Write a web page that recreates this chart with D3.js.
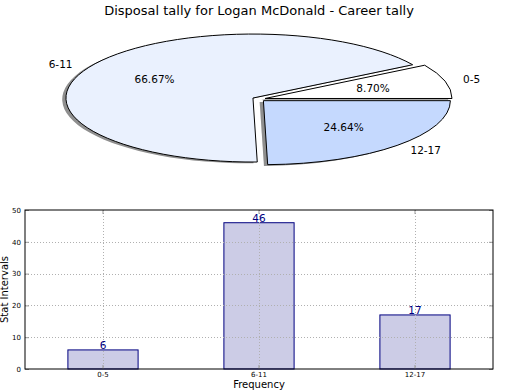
<!DOCTYPE html>
<html>
<head>
<meta charset="utf-8">
<script src="https://cdn.jsdelivr.net/npm/d3@7"></script>
<style>
  body { margin: 0; background: #fff; }
  svg { font-family: "DejaVu Sans", sans-serif; }
</style>
</head>
<body>
<svg id="chart" width="520" height="390"></svg>
<script>
// data
let categories = ['0-5', '6-11', '12-17'];
let counts = [6, 46, 17];
let slice_colors = ['#ffffff', '#eaf1fe', '#c5d9fe'];
let y_ticks = [0, 10, 20, 30, 40, 50];
let title_text = 'Disposal tally for Logan McDonald - Career tally';

let svg = d3.select('#chart');

svg.append('text')
    .attr('x', 259)
    .attr('y', 15)
    .attr('text-anchor', 'middle')
    .attr('font-size', 13)
    .text(title_text);

// ---- pie (squashed, exploded, with shadow) ----
function add_pie() {
    let cx = 258.7, cy = 99.1, rx = 187, ry = 64, explode = 0.035;
    let total = d3.sum(counts);

    // matplotlib style: start at east, counter-clockwise
    let pie = d3.pie()
        .sort(null)
        .startAngle(Math.PI / 2)
        .endAngle(Math.PI / 2 - 2 * Math.PI)
        .value(function (d) { return d; });

    let arc = d3.arc().innerRadius(0).outerRadius(1);
    let slices = pie(counts);

    function offset(d, k) {
        let a = (d.startAngle + d.endAngle) / 2;
        return [Math.sin(a) * k * rx, -Math.cos(a) * k * ry];
    }

    let g = svg.append('g');

    // shadows go under every wedge
    slices.forEach(function (d) {
        let o = offset(d, explode);
        g.append('path')
            .attr('d', arc(d))
            .attr('transform', 'translate(' + (cx + o[0] - 0.02 * rx) + ',' + (cy + o[1] + 0.02 * ry) + ') scale(' + rx + ',' + ry + ')')
            .attr('fill', '#8f8f8f');
    });

    slices.forEach(function (d, i) {
        let o = offset(d, explode);
        g.append('path')
            .attr('d', arc(d))
            .attr('transform', 'translate(' + (cx + o[0]) + ',' + (cy + o[1]) + ') scale(' + rx + ',' + ry + ')')
            .attr('fill', slice_colors[i])
            .attr('stroke', '#000')
            .attr('stroke-width', 1)
            .attr('vector-effect', 'non-scaling-stroke');
    });

    slices.forEach(function (d, i) {
        let o = offset(d, explode);
        let lab = offset(d, 1.1);
        let pct = offset(d, 0.6);
        let lx = cx + o[0] + lab[0];
        g.append('text')
            .attr('x', lx)
            .attr('y', cy + o[1] + lab[1])
            .attr('dy', '0.35em')
            .attr('text-anchor', lx < cx ? 'end' : 'start')
            .attr('font-size', 10.5)
            .text(categories[i]);
        g.append('text')
            .attr('x', cx + o[0] + pct[0])
            .attr('y', cy + o[1] + pct[1])
            .attr('dy', '0.35em')
            .attr('text-anchor', 'middle')
            .attr('font-size', 10.5)
            .text((counts[i] / total * 100).toFixed(2) + '%');
    });
}

// ---- bar chart ----
function add_bars() {
    let left = 25, right = 493, top = 210, bottom = 369;

    let x = d3.scaleBand()
        .domain(categories)
        .range([left, right])
        .paddingInner(0.55)
        .paddingOuter(0.275);

    let y = d3.scaleLinear()
        .domain([0, 50])
        .range([bottom, top]);

    let g = svg.append('g');

    g.selectAll('.bar')
        .data(counts)
        .enter().append('rect')
        .attr('class', 'bar')
        .attr('x', function (d, i) { return x(categories[i]); })
        .attr('y', function (d) { return y(d); })
        .attr('width', x.bandwidth())
        .attr('height', function (d) { return y(0) - y(d); })
        .attr('fill', '#ccccE6')
        .attr('stroke', '#000080')
        .attr('stroke-width', 1);

    // grid (dotted, on top of the bars)
    let grid = g.append('g')
        .attr('stroke', '#b0b0b0')
        .attr('stroke-width', 1)
        .attr('stroke-dasharray', '1,2');
    y_ticks.slice(1, -1).forEach(function (t) {
        grid.append('line')
            .attr('x1', left).attr('x2', right)
            .attr('y1', Math.round(y(t)) + 0.5).attr('y2', Math.round(y(t)) + 0.5);
    });
    categories.forEach(function (c) {
        let xc = Math.round(x(c) + x.bandwidth() / 2) + 0.5;
        grid.append('line')
            .attr('x1', xc).attr('x2', xc)
            .attr('y1', top).attr('y2', bottom);
    });

    // value labels
    g.selectAll('.val')
        .data(counts)
        .enter().append('text')
        .attr('class', 'val')
        .attr('x', function (d, i) { return x(categories[i]) + x.bandwidth() / 2; })
        .attr('y', function (d) { return y(d) - 1; })
        .attr('text-anchor', 'middle')
        .attr('font-size', 10.5)
        .attr('fill', '#000080')
        .text(function (d) { return d; });

    // axes
    let yAxis = d3.axisLeft(y).tickValues(y_ticks).tickSize(-4).tickPadding(4);
    let yg = g.append('g')
        .attr('transform', 'translate(' + left + ',0)')
        .call(yAxis);
    let yAxisR = d3.axisRight(y).tickValues(y_ticks).tickSize(-4).tickFormat('');
    let yr = g.append('g')
        .attr('transform', 'translate(' + right + ',0)')
        .call(yAxisR);
    let xAxis = d3.axisBottom(x).tickSize(-4).tickPadding(3);
    let xg = g.append('g')
        .attr('transform', 'translate(0,' + bottom + ')')
        .call(xAxis);
    let xAxisT = d3.axisTop(x).tickSize(-4).tickFormat('');
    let xt = g.append('g')
        .attr('transform', 'translate(0,' + top + ')')
        .call(xAxisT);

    [yg, yr, xg, xt].forEach(function (a) {
        a.select('.domain').remove();
        a.selectAll('.tick line').attr('stroke', '#999');
        a.selectAll('text')
            .attr('font-family', '"DejaVu Sans", sans-serif')
            .attr('font-size', 7)
            .attr('fill', '#000');
    });

    g.append('rect')
        .attr('x', left).attr('y', top)
        .attr('width', right - left).attr('height', bottom - top)
        .attr('fill', 'none')
        .attr('stroke', '#000')
        .attr('stroke-width', 1);

    g.append('text')
        .attr('transform', 'translate(8,' + (top + bottom) / 2 + ') rotate(-90)')
        .attr('text-anchor', 'middle')
        .attr('font-size', 10)
        .text('Stat Intervals');

    g.append('text')
        .attr('x', (left + right) / 2)
        .attr('y', 388)
        .attr('text-anchor', 'middle')
        .attr('font-size', 10)
        .text('Frequency');
}

add_pie();
add_bars();
</script>
</body>
</html>
